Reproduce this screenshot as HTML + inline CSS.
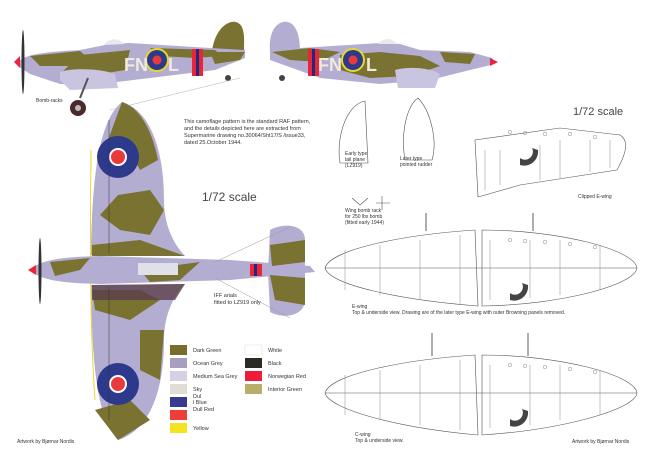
<!DOCTYPE html>
<html><head><meta charset="utf-8"><style>
html,body{margin:0;padding:0;background:#fff}
svg{display:block}
text{font-family:"Liberation Sans",sans-serif;fill:#333}
</style></head><body>
<svg width="650" height="471" viewBox="0 0 650 471" xmlns="http://www.w3.org/2000/svg">
<rect width="650" height="471" fill="#fff"/>
<!-- Top-left side view -->
<g>
<path d="M212,52 C214,32 226,20 236,22 C246,25 244,40 244,54 Z" fill="#7a7230"/>
<path d="M18,62 C25,55 40,52 80,50 L110,44 L130,43 L210,48 L245,50 L245,58 L215,70 L150,78 L100,84 L60,84 L30,74 L18,66 Z" fill="#b3add2"/>
<path d="M30,56 L80,51 L90,60 L70,66 L40,66 Z M80,55 L130,50 L125,70 L95,75 L60,74 Z M150,48 L215,50 L222,56 L195,58 L160,56 Z M210,52 L245,52 L240,60 L215,64 Z" fill="#7a7230"/>
<path d="M104,45 C108,38 118,37 124,44 Z" fill="#e8e8ef"/>
<path d="M60,72 C70,68 100,68 115,74 L118,88 L70,90 L60,80 Z" fill="#c9c4df"/>
<rect x="192" y="49" width="11" height="27" fill="#e8253a"/>
<rect x="196" y="49" width="3" height="27" fill="#1f2b7a"/>
<circle cx="157" cy="60" r="12" fill="#e8d72a"/><circle cx="157" cy="60" r="10" fill="#2d3a8c"/><circle cx="157" cy="60" r="4.5" fill="#e83a3a"/>
<text x="124" y="71" font-size="18" font-weight="bold" style="fill:#eeeadd">FN</text>
<text x="168" y="71" font-size="18" font-weight="bold" style="fill:#eeeadd">L</text>
<ellipse cx="23" cy="62" rx="1.5" ry="32" fill="#333"/>
<path d="M14,62 L20,56 L20,68 Z" fill="#e8253a"/>
<circle cx="228" cy="78" r="3" fill="#444"/>
<circle cx="78" cy="108" r="8" fill="#4a2a2a"/><circle cx="78" cy="108" r="3" fill="#bbb"/>
<line x1="80" y1="98" x2="88" y2="78" stroke="#555" stroke-width="2"/>
<line x1="110" y1="110" x2="240" y2="78" stroke="#bbb" stroke-width="0.6"/>
<text x="36" y="102" font-size="5">Bomb-racks</text>
</g>
<!-- Top-right side view -->
<g>
<path d="M270,52 C268,30 278,20 288,22 C298,25 300,40 300,52 Z" fill="#b3add2"/>
<path d="M270,50 L300,48 L380,43 L400,44 L420,50 L470,52 L492,58 L495,64 L470,70 L430,80 L380,84 L320,78 L270,60 Z" fill="#b3add2"/>
<path d="M272,52 L310,48 L340,52 L320,62 L290,60 Z M340,55 L380,52 L420,56 L440,66 L410,76 L370,78 L340,70 Z M440,52 L475,54 L470,64 L445,62 Z" fill="#7a7230"/>
<path d="M378,44 C382,38 392,37 397,44 Z" fill="#e8e8ef"/>
<path d="M395,70 C410,66 430,68 440,74 L435,88 L398,88 Z" fill="#c9c4df"/>
<rect x="308" y="49" width="11" height="27" fill="#e8253a"/>
<rect x="312" y="49" width="3" height="27" fill="#1f2b7a"/>
<circle cx="353" cy="60" r="12" fill="#e8d72a"/><circle cx="353" cy="60" r="10" fill="#2d3a8c"/><circle cx="353" cy="60" r="4.5" fill="#e83a3a"/>
<text x="318" y="71" font-size="18" font-weight="bold" style="fill:#eeeadd">FN</text>
<text x="366" y="71" font-size="18" font-weight="bold" style="fill:#eeeadd">L</text>
<path d="M490,58 L498,62 L490,66 Z" fill="#e8253a"/>
<circle cx="282" cy="78" r="3" fill="#444"/>
</g>
<!-- Plan view -->
<g>
<path d="M122,102 C100,120 92,170 91,255 L185,256 C170,240 164,220 164,200 C164,150 150,110 122,102 Z" fill="#b3add2"/>
<path d="M118,440 C98,420 92,370 91,285 L185,284 C170,300 164,320 164,340 C164,390 150,430 118,440 Z" fill="#b3add2"/>
<path d="M122,102 C140,108 152,130 158,160 L140,170 L130,150 L108,140 Z M118,195 L150,190 L164,210 L150,235 L120,230 L100,215 Z M92,245 L140,240 L185,256 L92,256 Z" fill="#7a7230"/>
<path d="M92,290 L140,290 L160,300 L130,320 L95,310 Z M140,330 L164,330 L160,380 L140,370 Z M95,410 L130,400 L150,420 L118,440 Z" fill="#7a7230"/>
<path d="M92,285 L185,284 L175,300 L92,300 Z" fill="#5a3f4a" opacity="0.8"/>
<path d="M91,150 C90,250 90,330 95,400" stroke="#e8d72a" stroke-width="1" fill="none"/>
<circle cx="118" cy="157" r="21" fill="#2d3a8c"/><circle cx="118" cy="157" r="9" fill="#fff"/><circle cx="118" cy="157" r="7" fill="#e83a3a"/>
<circle cx="118" cy="384" r="21" fill="#2d3a8c"/><circle cx="118" cy="384" r="9" fill="#fff"/><circle cx="118" cy="384" r="7" fill="#e83a3a"/>
<line x1="109" y1="120" x2="109" y2="253" stroke="#333" stroke-width="0.5"/>
<line x1="109" y1="287" x2="109" y2="420" stroke="#333" stroke-width="0.5"/>
<path d="M30,270 C40,260 60,257 100,256 L230,260 L310,266 L315,272 L230,280 L100,284 C60,283 40,280 30,270 Z" fill="#b3add2"/>
<path d="M50,262 L90,258 L80,270 L55,276 Z M140,270 L200,262 L180,280 L150,282 Z" fill="#7a7230"/>
<rect x="138" y="263" width="40" height="12" fill="#e0e0e8"/>
<path d="M270,230 C285,222 305,225 305,240 L305,300 C305,315 285,320 270,312 L268,272 Z" fill="#b3add2"/>
<path d="M270,245 L305,240 L305,262 L272,266 Z M270,275 L305,278 L305,305 L275,300 Z" fill="#7a7230"/>
<rect x="250" y="264" width="12" height="12" fill="#e8253a"/><rect x="254" y="264" width="3" height="12" fill="#1f2b7a"/>
<ellipse cx="40" cy="271" rx="1.5" ry="33" fill="#333"/>
<path d="M28,270 L36,265 L36,275 Z" fill="#e8253a"/>
<line x1="215" y1="262" x2="290" y2="227" stroke="#999" stroke-width="0.5"/>
<line x1="215" y1="278" x2="290" y2="318" stroke="#999" stroke-width="0.5"/>
<text x="214" y="297" font-size="5.5">IFF arials</text>
<text x="214" y="304" font-size="5.5">fitted to LZ919 only</text>
</g>
<text x="184" y="123" font-size="5.5">This camoflage pattern is the standard RAF pattern,</text>
<text x="184" y="130" font-size="5.5">and the details depicted here are extracted from</text>
<text x="184" y="137" font-size="5.5">Supermarine drawing no.30064/Sht17/S /issue33,</text>
<text x="184" y="144" font-size="5.5">dated 25.October 1944.</text>
<text x="202" y="201" font-size="12" style="fill:#444">1/72 scale</text>
<!-- Legend -->
<g font-size="5.5">
<rect x="170" y="345" width="17" height="10" fill="#7a6c2a"/><text x="193" y="352">Dark Green</text>
<rect x="170" y="358" width="17" height="10" fill="#a89fc0"/><text x="193" y="365">Ocean Grey</text>
<rect x="170" y="371" width="17" height="10" fill="#d6d0e2"/><text x="193" y="378">Medium Sea Grey</text>
<rect x="170" y="384" width="17" height="10" fill="#e0dcd6"/><text x="193" y="391">Sky</text>
<rect x="170" y="397" width="17" height="10" fill="#3a3990"/><text x="193" y="398">Dul</text><text x="193" y="404">l Blue</text>
<rect x="170" y="410" width="17" height="10" fill="#ee3e3a"/><text x="193" y="411">Dull Red</text>
<rect x="170" y="423" width="17" height="10" fill="#f4e41e"/><text x="193" y="430">Yellow</text>
<rect x="245" y="345" width="17" height="10" fill="#fff" stroke="#ddd" stroke-width="0.5"/><text x="268" y="352">White</text>
<rect x="245" y="358" width="17" height="10" fill="#2b2a24"/><text x="268" y="365">Black</text>
<rect x="245" y="371" width="17" height="10" fill="#ee1b3a"/><text x="268" y="378">Norwegian Red</text>
<rect x="245" y="384" width="17" height="10" fill="#b8ae6a"/><text x="268" y="391">Interior Green</text>
</g>
<text x="17" y="443" font-size="5">Artwork by Bjørnar Nordis</text>
<!-- Right side drawings -->
<g fill="none" stroke="#555" stroke-width="0.6">
<path d="M340,163 C336,140 345,105 365,101 L368,163 Z"/>
<path d="M405,160 C400,130 408,105 418,98 C430,110 438,140 432,160 Z"/>
<path d="M478,197 L475,140 L560,128 L620,135 C628,140 628,150 617,170 L520,185 L478,197"/>
<path d="M325,268 C330,250 400,235 475,230 L478,306 C400,300 330,285 325,268 Z"/>
<path d="M482,230 C560,230 635,250 637,268 C635,285 560,305 482,306 L482,230"/>
<path d="M325,393 C330,375 400,360 475,355 L478,435 C400,428 330,410 325,393 Z"/>
<path d="M482,355 C560,355 635,375 637,393 C635,410 560,430 482,435 L482,355"/>
<line x1="325" y1="268" x2="637" y2="268"/><line x1="325" y1="393" x2="637" y2="393"/>
<path d="M352,198 L360,205 L368,198 M382,196 L382,210 M376,203 L390,203"/>
</g>
<g fill="none" stroke="#888" stroke-width="0.5">
<path d="M485,150 L485,190 M500,150 L500,185 M540,145 L540,180 M560,140 L560,178 M590,140 L590,172 M610,140 L610,168"/>
<path d="M345,250 L345,290 M380,245 L380,295 M420,240 L420,300 M460,235 L460,305 M490,240 L490,300 M530,240 L530,298 M560,240 L560,295 M600,245 L600,290"/>
<path d="M345,375 L345,415 M380,370 L380,420 M420,365 L420,425 M460,360 L460,430 M490,365 L490,428 M530,365 L530,425 M560,365 L560,420 M600,370 L600,415"/>
<circle cx="510" cy="132" r="1.8"/><circle cx="525" cy="133" r="1.8"/><circle cx="545" cy="134" r="1.8"/><circle cx="570" cy="134" r="1.8"/><circle cx="595" cy="137" r="1.8"/>
<circle cx="510" cy="240" r="1.8"/><circle cx="525" cy="241" r="1.8"/><circle cx="545" cy="242" r="1.8"/><circle cx="570" cy="244" r="1.8"/><circle cx="595" cy="247" r="1.8"/>
<circle cx="510" cy="365" r="1.8"/><circle cx="525" cy="366" r="1.8"/><circle cx="545" cy="367" r="1.8"/><circle cx="570" cy="369" r="1.8"/><circle cx="595" cy="372" r="1.8"/>
</g>
<g stroke="#777" stroke-width="1.2"><line x1="426" y1="213" x2="426" y2="231"/><line x1="533" y1="213" x2="533" y2="231"/><line x1="432" y1="333" x2="432" y2="356"/><line x1="528" y1="333" x2="528" y2="356"/></g>
<path d="M520,165 A14,14 0 0 0 538,150 L532,148 A8,8 0 0 1 520,158 Z" fill="#444"/>
<path d="M510,300 A14,14 0 0 0 528,285 L522,283 A8,8 0 0 1 510,293 Z" fill="#444"/>
<path d="M510,426 A14,14 0 0 0 528,411 L522,409 A8,8 0 0 1 510,419 Z" fill="#444"/>
<g font-size="5">
<text x="345" y="155">Early type</text><text x="345" y="161">tail plane</text><text x="345" y="167">(LZ919)</text>
<text x="400" y="160">Later type</text><text x="400" y="166">pointed rudder</text>
<text x="345" y="212">Wing bomb rack</text><text x="345" y="218">for 250 lbs bomb</text><text x="345" y="224">(fitted early 1944)</text>
<text x="578" y="198">Clipped E-wing</text>
<text x="352" y="308">E-wing</text>
<text x="352" y="314">Top &amp; underside view. Drawing are of the later type E-wing with outer Browning panels removed.</text>
<text x="355" y="436">C-wing</text><text x="355" y="442">Top &amp; underside view.</text>
<text x="572" y="443">Artwork by Bjørnar Nordis</text>
</g>
<text x="573" y="115" font-size="11" style="fill:#444">1/72 scale</text>
</svg>
</body></html>
